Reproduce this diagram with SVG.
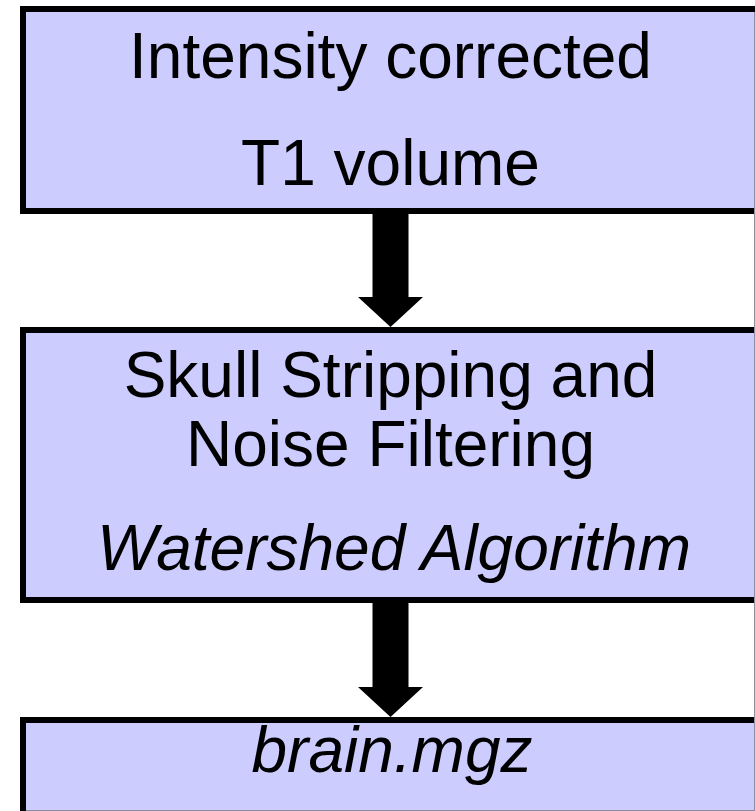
<svg xmlns="http://www.w3.org/2000/svg" width="755" height="811" viewBox="0 0 755 811">
  <style>
    .box { fill: #CCCCFF; stroke: #000000; stroke-width: 6; }
    .t { font-family: "Liberation Sans", Arial, Helvetica, sans-serif; font-size: 64px; fill: #000000; text-anchor: middle; }
    .it { font-style: italic; }
    .arrow { fill: #000000; stroke: none; }
    .edge { stroke: #8c8ca4; stroke-width: 1; fill: none; }
  </style>
  <rect x="0" y="0" width="755" height="811" fill="#FFFFFF"/>
  <g id="node-input">
    <rect class="box" x="23" y="9" width="745" height="202"/>
    <text class="t" x="390.5" y="78">Intensity corrected</text>
    <text class="t" x="390.5" y="185">T1 volume</text>
  </g>
  <g id="node-skullstrip">
    <rect class="box" x="23" y="330" width="745" height="270"/>
    <text class="t" x="390.5" y="397">Skull Stripping and</text>
    <text class="t" x="390.5" y="466">Noise Filtering</text>
    <text class="t it" x="394" y="570">Watershed Algorithm</text>
  </g>
  <g id="node-output">
    <rect class="box" x="23" y="720" width="745" height="120"/>
    <text class="t it" x="392" y="772">brain.mgz</text>
  </g>
  <g id="connectors">
    <polygon class="arrow" points="372.5,214 408.5,214 408.5,297 423,297 390.5,327 358,297 372.5,297"/>
    <polygon class="arrow" points="372.5,603 408.5,603 408.5,687 423,687 390.5,717 358,687 372.5,687"/>
  </g>
  <path class="edge" d="M754.5,12 V811 M26,810.5 H755"/>
</svg>
